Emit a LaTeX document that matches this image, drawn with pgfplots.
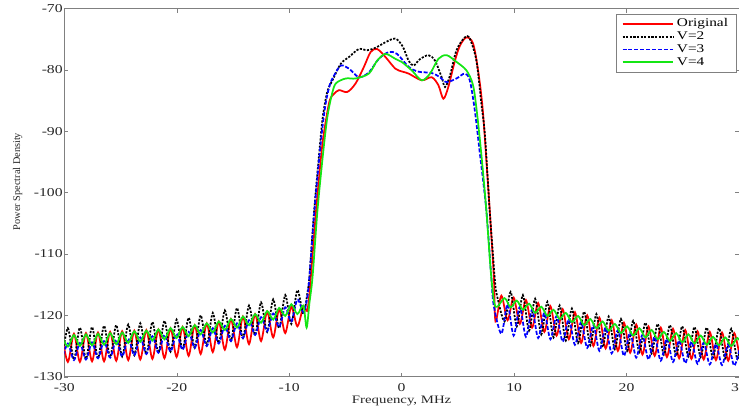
\documentclass[border=0pt]{standalone}
\usepackage{pgfplots}
\pgfplotsset{compat=1.18}
\usepackage{fontspec}
\setmainfont{Liberation Serif}[FakeStretch=1.3]
\newfontfamily\ylabfont{Liberation Serif}
\definecolor{pgreen}{RGB}{20,230,20}
\begin{document}
\begin{tikzpicture}[trim axis right]
\begin{axis}[
    scale only axis,
    width=504pt, height=275pt,
    xmin=-30, xmax=30,
    ymin=-130, ymax=-70,
    xtick={-30,-20,...,30},
    ytick={-130,-120,...,-70},
    axis line style={gray},
    tick style={gray},
    major tick length=3pt,
    /pgf/number format/assume math mode=true,
    tick label style={font=\fontsize{9}{10}\selectfont, text=black!85},
    yticklabel style={inner xsep=1pt},
    xticklabel style={yshift=-1.5pt},
    xlabel={Frequency, MHz},
    ylabel={Power Spectral Density},
    xlabel style={font=\fontsize{8.5}{10}\selectfont, text=black!85,
        at={(axis description cs:0.5,0)}, anchor=center, yshift=-18pt},
    ylabel style={font=\ylabfont\fontsize{7.7}{9}\selectfont, text=black!85,
        at={(axis description cs:-0.069,0.53)}, anchor=center},
    legend style={at={(1,1)}, anchor=north east, xshift=-2pt, yshift=-4pt,
        draw=gray, font=\fontsize{8.8}{10}\selectfont, cells={anchor=west},
        inner xsep=4pt, inner ysep=1.5pt, row sep=-1.8pt},
    legend image code/.code={\draw[#1] (0pt,0pt) -- (38pt,0pt);},
]

% Original
\addplot[red, line width=1.3pt, smooth, tension=0.5] coordinates {
(-30.22,-123.0) (-29.68,-127.6) (-29.14,-123.0) (-28.61,-127.6) (-28.07,-122.9) (-27.53,-127.5)
(-27.00,-122.8) (-26.46,-127.5) (-25.92,-122.7) (-25.38,-127.4) (-24.85,-122.6) (-24.31,-127.3)
(-23.77,-122.5) (-23.24,-127.2) (-22.70,-122.4) (-22.16,-127.1) (-21.63,-122.3) (-21.09,-127.0)
(-20.55,-122.1) (-20.01,-126.8) (-19.48,-121.9) (-18.94,-126.6) (-18.40,-121.6) (-17.87,-126.3)
(-17.33,-121.3) (-16.79,-126.0) (-16.26,-121.0) (-15.72,-125.6) (-15.18,-120.6) (-14.64,-125.2)
(-14.11,-120.2) (-13.57,-124.7) (-13.03,-119.8) (-12.50,-124.2) (-11.96,-119.4) (-11.42,-123.6)
(-10.89,-119.0) (-10.35,-122.9) (-9.81,-118.6) (-9.27,-121.8) (-8.74,-118.6) (-8.4,-119.3)
(-8.2,-116.5) (-8.0,-112.0) (-7.6,-102.8) (-7.1,-93.0) (-6.8,-89.0) (-6.4,-85.0) (-6.0,-83.9)
(-5.56,-83.3) (-4.83,-83.6) (-4.09,-82.2) (-3.35,-79.5) (-2.76,-77.1) (-2.18,-76.6) (-1.44,-77.9)
(-0.56,-79.8) (0.1,-80.3) (0.62,-80.6) (1.79,-81.7) (2.67,-81.2) (3.27,-82.5) (3.71,-84.7)
(4.15,-82.8) (4.74,-78.5) (5.2,-76.0) (5.77,-74.7) (6.35,-75.7) (6.8,-80.1) (7.24,-87.1)
(7.83,-102.8) (8.2,-113.7) (8.35,-121.0)
(8.87,-116.8) (9.42,-120.8) (9.96,-117.1) (10.51,-121.4) (11.05,-117.5) (11.60,-122.0)
(12.14,-118.0) (12.69,-122.7) (13.23,-118.5) (13.78,-123.3) (14.32,-119.0) (14.87,-123.9)
(15.41,-119.5) (15.96,-124.5) (16.50,-120.0) (17.05,-125.0) (17.59,-120.4) (18.14,-125.4)
(18.68,-120.8) (19.23,-125.8) (19.77,-121.2) (20.32,-126.1) (20.86,-121.5) (21.41,-126.4)
(21.95,-121.8) (22.50,-126.6) (23.04,-122.0) (23.59,-126.8) (24.13,-122.2) (24.68,-127.0)
(25.22,-122.4) (25.77,-127.1) (26.31,-122.6) (26.86,-127.2) (27.40,-122.7) (27.95,-127.3)
(28.49,-122.8) (29.04,-127.4) (29.58,-122.9) (30.13,-127.5)
};
\addlegendentry{Original}

% V=2
\addplot[black, line width=1.3pt, dash pattern=on 1.6pt off 1.1pt, smooth, tension=0.5] coordinates {
(-30.22,-127.3) (-29.68,-122.1) (-29.14,-127.2) (-28.61,-122.0) (-28.07,-127.1) (-27.53,-121.9)
(-27.00,-127.0) (-26.46,-121.7) (-25.92,-126.8) (-25.38,-121.6) (-24.85,-126.7) (-24.31,-121.5)
(-23.77,-126.5) (-23.24,-121.3) (-22.70,-126.3) (-22.16,-121.1) (-21.63,-126.1) (-21.09,-120.9)
(-20.55,-125.9) (-20.01,-120.7) (-19.48,-125.6) (-18.94,-120.4) (-18.40,-125.3) (-17.87,-120.0)
(-17.33,-124.9) (-16.79,-119.6) (-16.26,-124.5) (-15.72,-119.2) (-15.18,-124.1) (-14.64,-118.8)
(-14.11,-123.7) (-13.57,-118.4) (-13.03,-123.2) (-12.50,-117.9) (-11.96,-122.7) (-11.42,-117.4)
(-10.89,-122.1) (-10.35,-116.7) (-9.81,-121.4) (-9.27,-115.9) (-8.74,-119.8)
(-8.35,-116.0) (-8.2,-113.7) (-7.77,-102.8) (-7.3,-93.0) (-7.0,-87.5) (-6.6,-83.5) (-6.15,-81.7)
(-5.41,-79.0) (-4.68,-77.9) (-3.80,-76.6) (-3.06,-76.8) (-2.32,-76.4) (-1.44,-75.5) (-0.56,-74.9)
(0.1,-76.2) (0.62,-78.5) (1.06,-79.3) (1.6,-78.3) (2.38,-77.6) (2.97,-78.5) (3.56,-81.2)
(3.86,-82.8) (4.3,-80.9) (4.88,-76.8) (5.62,-74.7) (6.06,-74.9) (6.65,-78.5) (7.09,-85.5)
(7.4,-90.5) (7.83,-102.8) (8.27,-113.7) (8.45,-116.5)
(9.15,-121.0) (9.69,-116.2) (10.24,-121.8) (10.78,-116.7) (11.33,-122.5) (11.87,-117.3)
(12.42,-123.1) (12.96,-117.8) (13.51,-123.6) (14.05,-118.4) (14.60,-124.1) (15.14,-118.9)
(15.69,-124.5) (16.23,-119.4) (16.78,-124.9) (17.32,-119.8) (17.87,-125.2) (18.41,-120.2)
(18.96,-125.5) (19.50,-120.6) (20.05,-125.8) (20.59,-120.9) (21.14,-126.0) (21.68,-121.2)
(22.23,-126.2) (22.77,-121.4) (23.32,-126.4) (23.86,-121.6) (24.41,-126.6) (24.95,-121.8)
(25.50,-126.7) (26.04,-121.9) (26.59,-126.8) (27.13,-122.0) (27.68,-126.9) (28.22,-122.1)
(28.77,-127.0) (29.31,-122.2) (29.86,-127.1) (30.40,-122.3)
};
\addlegendentry{V=2}

% V=3
\addplot[blue, line width=1.3pt, dash pattern=on 3pt off 1.4pt, smooth, tension=0.5] coordinates {
(-30.22,-127.4) (-29.68,-124.6) (-29.14,-127.3) (-28.61,-124.5) (-28.07,-127.2) (-27.53,-124.4)
(-27.00,-127.0) (-26.46,-124.2) (-25.92,-126.9) (-25.38,-124.0) (-24.85,-126.7) (-24.31,-123.8)
(-23.77,-126.5) (-23.24,-123.6) (-22.70,-126.3) (-22.16,-123.4) (-21.63,-126.1) (-21.09,-123.2)
(-20.55,-125.9) (-20.01,-123.0) (-19.48,-125.6) (-18.94,-122.7) (-18.40,-125.3) (-17.87,-122.4)
(-17.33,-125.0) (-16.79,-122.1) (-16.26,-124.6) (-15.72,-121.7) (-15.18,-124.2) (-14.64,-121.3)
(-14.11,-123.7) (-13.57,-120.8) (-13.03,-123.2) (-12.50,-120.3) (-11.96,-122.6) (-11.42,-119.7)
(-10.89,-121.9) (-10.35,-118.7) (-9.81,-121.0) (-9.27,-117.4) (-8.74,-119.5) (-8.4,-117.2)
(-8.2,-113.7) (-7.75,-102.8) (-7.2,-92.0) (-6.8,-86.0) (-6.4,-82.5) (-6.0,-80.9) (-5.41,-79.3)
(-4.68,-79.8) (-3.80,-81.2) (-2.91,-80.4) (-2.03,-78.2) (-1.15,-77.1) (-0.4,-77.4) (0.62,-79.5)
(1.5,-80.3) (2.67,-80.5) (3.41,-81.2) (4.0,-82.0) (4.88,-81.4) (5.62,-80.6) (6.06,-81.7)
(6.5,-86.5) (6.95,-93.5) (7.53,-102.8) (7.97,-113.7) (8.2,-118.5)
(8.87,-123.0) (9.42,-118.2) (9.96,-123.3) (10.51,-118.6) (11.05,-123.5) (11.60,-119.1)
(12.14,-123.7) (12.69,-119.6) (13.23,-123.9) (13.78,-120.1) (14.32,-124.3) (14.87,-120.6)
(15.41,-124.8) (15.96,-121.1) (16.50,-125.3) (17.05,-121.6) (17.59,-125.8) (18.14,-122.0)
(18.68,-126.2) (19.23,-122.4) (19.77,-126.6) (20.32,-122.8) (20.86,-126.9) (21.41,-123.2)
(21.95,-127.2) (22.50,-123.5) (23.04,-127.4) (23.59,-123.8) (24.13,-127.6) (24.68,-124.1)
(25.22,-127.8) (25.77,-124.3) (26.31,-127.9) (26.86,-124.5) (27.40,-128.0) (27.95,-124.7)
(28.49,-128.1) (29.04,-124.8) (29.58,-128.2) (30.13,-124.9)
};
\addlegendentry{V=3}

% V=4
\addplot[pgreen, line width=1.3pt, smooth, tension=0.5] coordinates {
(-30.22,-123.3) (-29.68,-125.1) (-29.14,-123.2) (-28.61,-125.0) (-28.07,-123.1) (-27.53,-124.9)
(-27.00,-123.0) (-26.46,-124.8) (-25.92,-122.9) (-25.38,-124.7) (-24.85,-122.8) (-24.31,-124.5)
(-23.77,-122.6) (-23.24,-124.3) (-22.70,-122.5) (-22.16,-124.1) (-21.63,-122.3) (-21.09,-123.9)
(-20.55,-122.1) (-20.01,-123.7) (-19.48,-121.9) (-18.94,-123.4) (-18.40,-121.6) (-17.87,-123.1)
(-17.33,-121.3) (-16.79,-122.8) (-16.26,-121.0) (-15.72,-122.4) (-15.18,-120.6) (-14.64,-122.0)
(-14.11,-120.2) (-13.57,-121.6) (-13.03,-119.8) (-12.50,-121.2) (-11.96,-119.3) (-11.42,-120.7)
(-10.89,-118.8) (-10.35,-120.1) (-9.81,-118.2) (-9.27,-119.8) (-8.74,-118.4) (-8.45,-122.0)
(-8.2,-118.0) (-7.92,-113.7) (-7.48,-102.8) (-6.95,-93.0) (-6.59,-87.5) (-6.2,-84.0) (-5.85,-82.2)
(-4.97,-81.4) (-4.09,-81.4) (-2.91,-80.6) (-2.18,-78.5) (-1.44,-77.4) (-0.56,-78.2) (0.0,-78.7)
(0.91,-80.1) (1.79,-81.7) (2.53,-80.6) (3.27,-78.2) (4.0,-77.6) (4.88,-78.7) (5.77,-80.1)
(6.35,-82.5) (6.7,-87.0) (7.1,-94.0) (7.53,-102.8) (7.97,-113.7) (8.35,-118.6)
(9.15,-117.2) (9.69,-118.7) (10.24,-117.6) (10.78,-119.1) (11.33,-118.1) (11.87,-119.6)
(12.42,-118.6) (12.96,-120.1) (13.51,-119.1) (14.05,-120.6) (14.60,-119.6) (15.14,-121.1)
(15.69,-120.1) (16.23,-121.6) (16.78,-120.6) (17.32,-122.1) (17.87,-121.0) (18.41,-122.5)
(18.96,-121.4) (19.50,-122.9) (20.05,-121.8) (20.59,-123.3) (21.14,-122.1) (21.68,-123.6)
(22.23,-122.4) (22.77,-123.9) (23.32,-122.7) (23.86,-124.2) (24.41,-122.9) (24.95,-124.4)
(25.50,-123.1) (26.04,-124.6) (26.59,-123.3) (27.13,-124.8) (27.68,-123.5) (28.22,-124.9)
(28.77,-123.6) (29.31,-125.0) (29.86,-123.7) (30.40,-125.1)
};
\addlegendentry{V=4}

\end{axis}
\path ([xshift=-48pt, yshift=-25pt]current axis.south west);
\end{tikzpicture}
\end{document}
